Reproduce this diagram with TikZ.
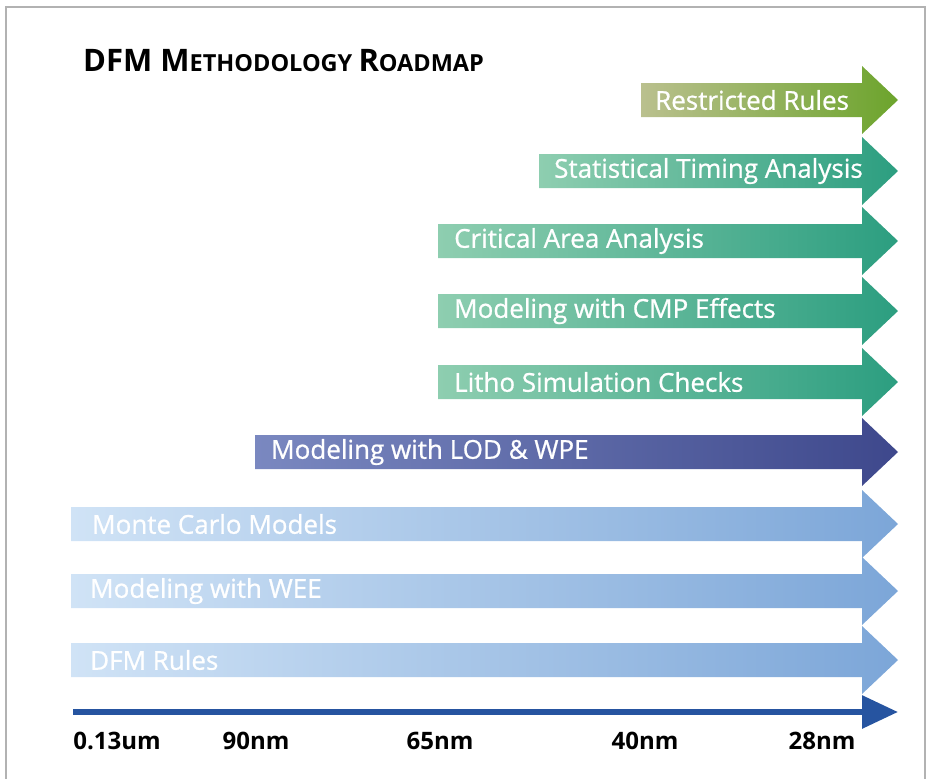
\documentclass[tikz,border=0pt]{standalone}
\usepackage{fontspec}
\setmainfont{Open Sans}
\newfontfamily\barfont{Open Sans}[FakeBold=0.8]
\usetikzlibrary{arrows.meta}

\definecolor{rrL}{RGB}{186,192,142}
\definecolor{rrR}{RGB}{108,164,44}
\definecolor{tealL}{RGB}{142,206,176}
\definecolor{tealR}{RGB}{44,158,128}
\definecolor{lodL}{RGB}{122,136,192}
\definecolor{lodR}{RGB}{62,72,140}
\definecolor{blueL}{RGB}{208,227,246}
\definecolor{blueR}{RGB}{124,166,216}
\definecolor{axisblue}{RGB}{38,84,160}

\begin{document}
\begin{tikzpicture}[x=1pt,y=-1pt]

    \tikzset{
      bartext/.style={
        anchor=west,
        text=white,
        font=\barfont\fontsize{26}{30}\selectfont,
        inner sep=0pt,
      },
      ticktext/.style={
        anchor=center,
        font=\fontsize{24}{28}\selectfont\bfseries,
        inner sep=0pt,
      },
    }
    \useasboundingbox (0,0) rectangle (929,779);
    \draw[color={black!30}, line width=1.5pt] (6,779)--(6,7)--(925,7)--(925,779);

    \node[anchor=west, inner sep=0pt, font=\bfseries] (title) at (83,61)
      {\fontsize{31}{34}\selectfont DFM M\fontsize{23.5}{26}\selectfont ETHODOLOGY
       \fontsize{31}{34}\selectfont R\fontsize{23.5}{26}\selectfont OADMAP};

    % roadmap bars: start x / centre y / colours / label x / text / name
    \foreach \xs/\yc/\cl/\cr/\xt/\txt/\nm in {
        641/100/rrL/rrR/655/Restricted Rules/restricted,
        539/171/tealL/tealR/554/Statistical Timing Analysis/sta,
        438/241/tealL/tealR/454/Critical Area Analysis/caa,
        438/311/tealL/tealR/454/Modeling with CMP Effects/cmp,
        438/382/tealL/tealR/454/Litho Simulation Checks/litho,
        255/452/lodL/lodR/271/Modeling with LOD \& WPE/lod,
        71/524/blueL/blueR/92/Monte Carlo Models/montecarlo,
        71/591/blueL/blueR/90/Modeling with WEE/wee,
        71/660/blueL/blueR/90/DFM Rules/dfmrules}{
      \shade[left color=\cl, right color=\cr]
        (\xs,\yc-17)--(862,\yc-17)--(862,\yc-34)--(898,\yc)
        --(862,\yc+34)--(862,\yc+17)--(\xs,\yc+17)--cycle;
      \node[bartext] (\nm) at (\xt,\yc) {\txt};
    }

    % technology node axis
    \coordinate (axisstart) at (73,712);
    \coordinate (axisend) at (898,712);
    \draw[color=axisblue, line width=6pt, -{Triangle[length=36pt,width=32pt]}]
      (axisstart)--(axisend);

    \node[ticktext] (n130) at (117,741) {0.13um};
    \node[ticktext] (n90) at (256,741) {90nm};
    \node[ticktext] (n65) at (440,741) {65nm};
    \node[ticktext] (n40) at (645,741) {40nm};
    \node[ticktext] (n28) at (822,741) {28nm};

\end{tikzpicture}
\end{document}
